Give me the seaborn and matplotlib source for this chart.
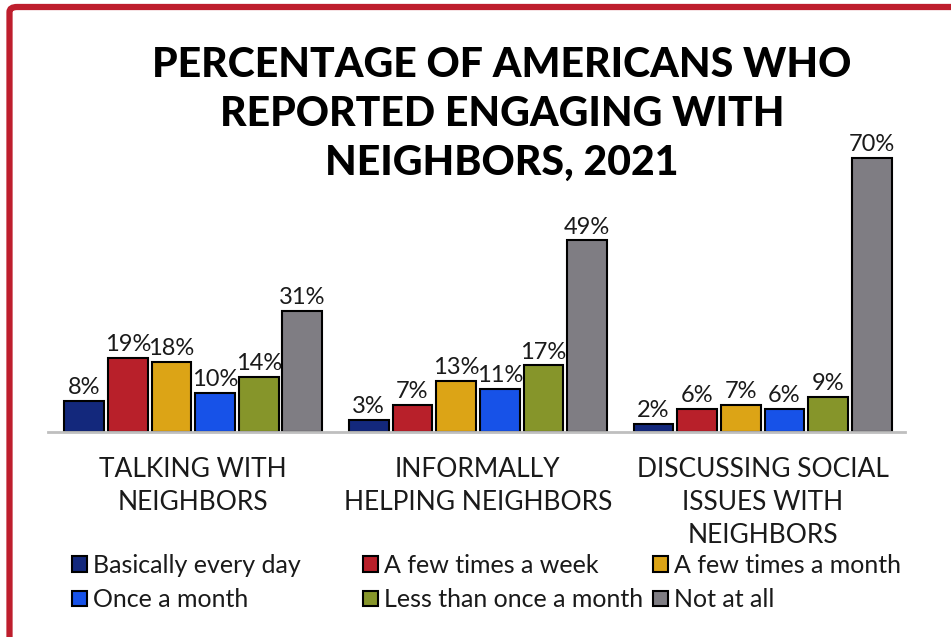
import matplotlib
matplotlib.use("Agg")
import matplotlib.pyplot as plt
import seaborn as sns
import pandas as pd
from matplotlib.patches import FancyBboxPatch

categories = ["TALKING WITH\nNEIGHBORS", "INFORMALLY\nHELPING NEIGHBORS", "DISCUSSING SOCIAL\nISSUES WITH\nNEIGHBORS"]
series = ["Basically every day", "A few times a week", "A few times a month",
          "Once a month", "Less than once a month", "Not at all"]
basically_every_day = [8, 3, 2]
few_times_week = [19, 7, 6]
few_times_month = [18, 13, 7]
once_month = [10, 11, 6]
less_than_once = [14, 17, 9]
not_at_all = [31, 49, 70]
colors = ["#13287C", "#B8202A", "#DCA416", "#1752E8", "#86952A", "#7F7D83"]
title_lines = ["PERCENTAGE OF AMERICANS WHO", "REPORTED ENGAGING WITH", "NEIGHBORS, 2021"]

values = [basically_every_day, few_times_week, few_times_month, once_month, less_than_once, not_at_all]
rows = []
for s, vals in zip(series, values):
    for c, v in zip(categories, vals):
        rows.append({"cat": c, "series": s, "val": v})
df = pd.DataFrame(rows)

sns.set_theme(style="white")
plt.rcParams["font.family"] = ["Lato", "DejaVu Sans"]

fig = plt.figure(figsize=(9.51, 6.37), dpi=100)
ax = fig.add_axes([48/951, 1-432/637, (905-48)/951, (432-119)/637])

sns.barplot(data=df, x="cat", y="val", hue="series", hue_order=series, order=categories,
            palette=colors, saturation=1, width=0.92, gap=0.09, edgecolor="black",
            linewidth=1.5, legend=True, ax=ax)

for cont in ax.containers:
    ax.bar_label(cont, labels=[f"{int(round(b.get_height()))}%" for b in cont],
                 padding=2, fontsize=17, color="#1a1a1a")

ax.set_ylim(0, 80)
ax.set_xlim(-0.51, 2.5)
ax.set_xlabel("")
ax.set_ylabel("")
ax.set_yticks([])
for sp in ["top", "right", "left"]:
    ax.spines[sp].set_visible(False)
ax.spines["bottom"].set_color("#BFBFBF")
ax.spines["bottom"].set_linewidth(2)
ax.tick_params(axis="x", length=0, pad=18, labelsize=19, labelcolor="#1a1a1a")
for t in ax.get_xticklabels():
    t.set_linespacing(1.4)

handles, labels = ax.get_legend_handles_labels()
ax.get_legend().remove()
xs = [72/951, 363/951, 653/951]
for i in range(3):
    idx = [i, i + 3]
    fig.legend([handles[j] for j in idx], [labels[j] for j in idx],
               loc="upper left", bbox_to_anchor=(xs[i], 1-554/637),
               frameon=False, fontsize=18, handlelength=0.6, handleheight=0.6,
               handletextpad=0.25, labelspacing=0.45, borderaxespad=0, borderpad=0,
               labelcolor="#1a1a1a")

baselines = [77, 126, 175]
for line, yb in zip(title_lines, baselines):
    fig.text(502/951, 1-yb/637, line, ha="center", va="baseline",
             fontsize=29.5, fontweight="black", color="black")

border = FancyBboxPatch((9.5/951, -0.2), 1.2, 1.2 - 7/637,
                        boxstyle="round,pad=0,rounding_size=0.008",
                        transform=fig.transFigure, fill=False,
                        edgecolor="#BE1E2D", linewidth=4.5, zorder=10)
fig.patches.append(border)

fig.savefig("out.png", dpi=100)
